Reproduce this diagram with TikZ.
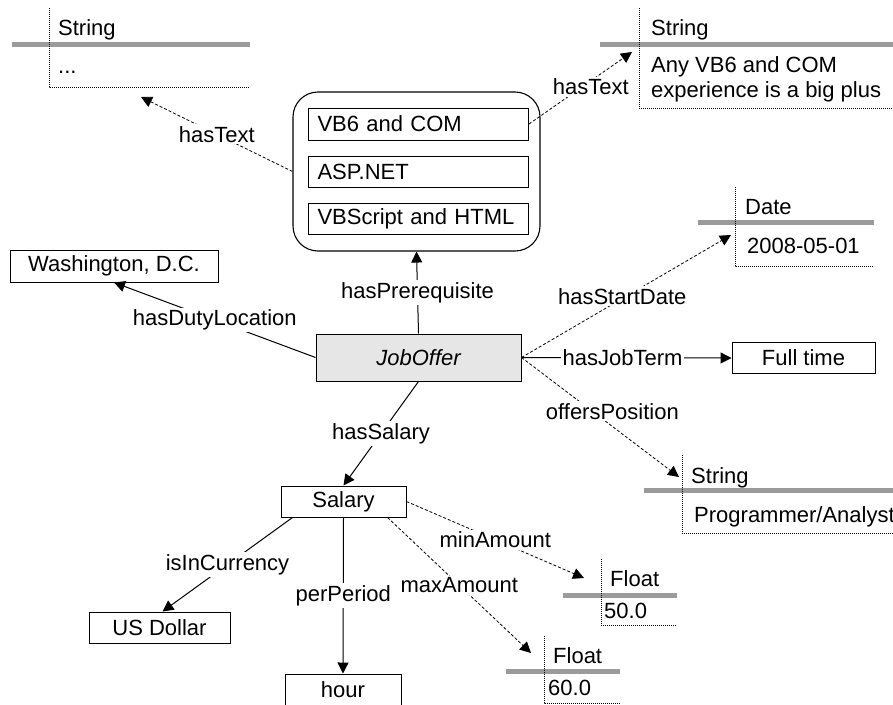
\documentclass[tikz,border=0pt]{standalone}
\usepackage{fontspec}
\setmainfont{Liberation Sans}
\usetikzlibrary{arrows.meta}

\definecolor{barg}{RGB}{155,155,155}
\definecolor{classfill}{RGB}{230,230,230}

\begin{document}
\begin{tikzpicture}[x=1pt,y=-1pt,
  font=\fontsize{22}{26}\selectfont,
  rel/.style={line width=1pt, -{Triangle[length=11pt,width=11pt]}},
  drel/.style={rel, line width=0.8pt, dash pattern=on 3pt off 2pt},
  lbl/.style={fill=white, inner sep=2pt},
  obj/.style={draw, line width=1pt, inner sep=0pt},
  item/.style={draw, line width=1pt, anchor=west, inner xsep=9pt, inner ysep=0pt,
               text width=202pt, align=left},
  dots/.style={line width=0.9pt, dash pattern=on 1pt off 1pt},
  bar/.style={line width=5pt, draw=barg},
  dtext/.style={anchor=base west, inner sep=0pt},
]
\useasboundingbox[fill=white] (0,0) rectangle (893,704);

% ---- typed literal boxes ----
% String "..."
\draw[bar] (12,44.5) -- (250,44.5);
\draw[dots] (49,8) -- (49,87) -- (250,87);
\node[dtext] (s1t) at (58,35) {String};
\node[dtext] (s1v) at (58,73) {...};
\coordinate (s1tip) at (141,97);

% String "Any VB6 and COM ..."
\draw[bar] (600,44.5) -- (893,44.5);
\draw[dots] (639,8) -- (639,108) -- (893,108);
\node[dtext] (s2t) at (651,35) {String};
\node[dtext] (s2v) at (651,72) {Any VB6 and COM};
\node[dtext] (s2w) at (651,97) {experience is a big plus};
\coordinate (s2tip) at (632,52);

% Date
\draw[bar] (698,222.5) -- (874,222.5);
\draw[dots] (735,187) -- (735,266) -- (874,266);
\node[dtext] (dt) at (745,214) {Date};
\node[dtext] (dv) at (747,253) {2008-05-01};
\coordinate (dtip) at (731,235);

% String "Programmer/Analyst"
\draw[bar] (644,490) -- (893,490);
\draw[dots] (682,455) -- (682,533) -- (893,533);
\node[dtext] (s3t) at (691,483) {String};
\node[dtext] (s3v) at (694,522) {Programmer/Analyst};
\coordinate (s3tip) at (679,477);

% Float 50.0
\draw[bar] (563,595.5) -- (677,595.5);
\draw[dots] (601,559) -- (601,625) -- (677,625);
\node[dtext] (f1t) at (610,586) {Float};
\node[dtext] (f1v) at (604,618) {50.0};
\coordinate (f1tip) at (584,578);

% Float 60.0
\draw[bar] (506,671.5) -- (620,671.5);
\draw[dots] (544,636) -- (544,703) -- (620,703);
\node[dtext] (f2t) at (553,663) {Float};
\node[dtext] (f2v) at (548,695) {60.0};
\coordinate (f2tip) at (531,653);

% ---- prerequisite container ----
\node[draw, line width=1.1pt, rounded corners=25pt, minimum width=247pt,
      minimum height=159pt] (prereq) at (416.5,171.5) {};
\node[item, minimum height=32pt] (p1) at (308,124) {VB6 and COM};
\node[item, minimum height=31pt] (p2) at (308,171.5) {ASP.NET};
\node[item, minimum height=31pt] (p3) at (308,218.5) {VBScript and HTML};

% ---- resources ----
\node[obj, fill=classfill, minimum width=205pt, minimum height=47pt]
  (job) at (418.5,357.5) {\itshape JobOffer};
\node[obj, minimum width=208pt, minimum height=32pt] (wash) at (114,266) {Washington, D.C.};
\node[obj, minimum width=143pt, minimum height=31pt] (ft) at (803.5,358) {Full time};
\node[obj, minimum width=125pt, minimum height=31pt] (sal) at (343.5,501.5) {Salary};
\node[obj, minimum width=141pt, minimum height=31pt] (usd) at (159.5,627.5) {US Dollar};
\node[obj, minimum width=116pt, minimum height=32pt] (hour) at (343,690) {hour};

% ---- properties ----
\draw[rel] (job.north) -- (prereq.south) node[lbl, midway] {hasPrerequisite};
\draw[rel] (job.west) -- (wash.south) node[lbl, midway] {hasDutyLocation};
\draw[drel] (prereq.west) -- (s1tip) node[lbl, midway] {hasText};
\draw[drel] (p1.east) -- (s2tip) node[lbl, pos=0.6, yshift=-6pt] {hasText};
\draw[drel] (job.east) -- (dtip) node[lbl, midway, xshift=-4pt] {hasStartDate};
\draw[rel] (job.east) -- (ft.west) node[lbl, midway, xshift=-4pt] {hasJobTerm};
\draw[drel] (job.east) -- (s3tip) node[lbl, pos=0.45, xshift=20pt] {offersPosition};
\draw[rel] (job.south) -- (sal.north) node[lbl, midway] {hasSalary};
\draw[rel] ([xshift=12pt]sal.south west) -- ([xshift=3pt]usd.north) node[lbl, midway] {isInCurrency};
\draw[rel] (sal.south) -- (hour.north) node[lbl, midway] {perPeriod};
\draw[drel] (sal.east) -- (f1tip) node[lbl, midway] {minAmount};
\draw[drel] ([xshift=-19pt]sal.south east) -- (f2tip) node[lbl, midway] {maxAmount};
\end{tikzpicture}
\end{document}
